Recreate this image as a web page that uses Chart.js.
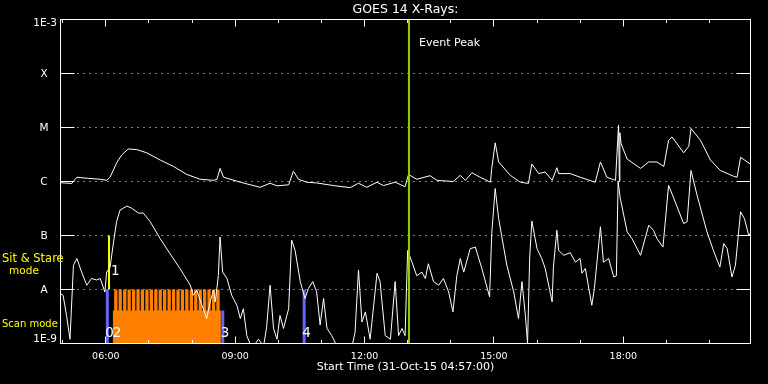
<!DOCTYPE html>
<html>
<head>
<meta charset="utf-8">
<script src="https://cdn.jsdelivr.net/npm/chart.js@4.4.1/dist/chart.umd.min.js"></script>
<style>
html, body { margin: 0; padding: 0; background: #000; }
#wrap { width: 768px; height: 384px; }
</style>
</head>
<body>
<div id="wrap"><canvas id="goesChart" width="768" height="384"></canvas></div>
<script>
// GOES 14 x-ray flux (W/m^2), times in hours UT on 31-Oct-2015
const longTimes = [
  4.95, 5.21, 5.33, 5.56, 5.87, 6.02, 6.10, 6.25, 6.37, 6.52,
  6.72, 6.95, 7.26, 7.57, 7.88, 8.19, 8.50, 8.58, 8.65, 8.73,
  9.12, 9.58, 9.81, 9.97, 10.24, 10.35, 10.47, 10.66, 10.89, 11.28,
  11.67, 11.86, 12.05, 12.29, 12.44, 12.71, 12.94, 13.02, 13.21, 13.52,
  13.68, 14.06, 14.22, 14.34, 14.49, 14.68, 14.92, 14.95, 15.03, 15.11,
  15.38, 15.61, 15.80, 15.88, 16.04, 16.19, 16.35, 16.46, 16.50, 16.77,
  17.00, 17.35, 17.47, 17.62, 17.82, 17.89, 17.91, 17.92, 17.95, 18.09,
  18.40, 18.59, 18.78, 18.94, 19.05, 19.13, 19.40, 19.52, 19.57, 19.79,
  20.02, 20.25, 20.56, 20.64, 20.72, 20.95
];
const longFlux = [
  0.95e-6, 0.92e-6, 1.2e-6, 1.15e-6, 1.1e-6, 1.05e-6, 1.2e-6, 2.2e-6, 3.1e-6, 4.0e-6,
  3.9e-6, 3.4e-6, 2.5e-6, 1.9e-6, 1.35e-6, 1.1e-6, 1.05e-6, 1.1e-6, 1.75e-6, 1.2e-6,
  0.97e-6, 0.78e-6, 0.93e-6, 0.83e-6, 0.87e-6, 1.55e-6, 1.1e-6, 0.97e-6, 0.94e-6, 0.84e-6,
  0.77e-6, 0.93e-6, 0.78e-6, 0.97e-6, 0.84e-6, 0.97e-6, 0.8e-6, 1.35e-6, 1.1e-6, 1.28e-6,
  1.05e-6, 1.0e-6, 1.3e-6, 1.05e-6, 1.45e-6, 1.2e-6, 0.97e-6, 1.75e-6, 5.2e-6, 2.3e-6,
  1.3e-6, 0.97e-6, 0.92e-6, 2.1e-6, 1.4e-6, 1.5e-6, 1.05e-6, 1.8e-6, 1.4e-6, 1.4e-6,
  1.2e-6, 0.97e-6, 2.3e-6, 1.2e-6, 1.05e-6, 1.1e-5, 1.0e-6, 8e-6, 5e-6, 2.6e-6,
  1.75e-6, 2.3e-6, 2.3e-6, 1.9e-6, 5.8e-6, 6.7e-6, 3.4e-6, 4.5e-6, 9.6e-6, 5.8e-6,
  2.5e-6, 1.6e-6, 1.25e-6, 1.2e-6, 2.8e-6, 2.1e-6
];
const shortTimes = [
  4.95, 5.01, 5.09, 5.17, 5.25, 5.33, 5.44, 5.56, 5.67, 5.79,
  5.87, 5.98, 6.02, 6.10, 6.18, 6.25, 6.33, 6.49, 6.60, 6.76,
  6.87, 7.03, 7.26, 7.49, 7.72, 7.96, 8.03, 8.11, 8.23, 8.34,
  8.42, 8.50, 8.54, 8.61, 8.65, 8.71, 8.81, 8.92, 9.04, 9.12,
  9.19, 9.27, 9.39, 9.54, 9.66, 9.73, 9.81, 9.89, 9.97, 10.04,
  10.12, 10.24, 10.31, 10.39, 10.51, 10.62, 10.70, 10.80, 10.89, 10.97,
  11.05, 11.13, 11.24, 11.36, 11.71, 11.78, 11.86, 11.94, 12.02, 12.13,
  12.29, 12.36, 12.48, 12.60, 12.71, 12.79, 12.87, 12.94, 13.00, 13.10,
  13.21, 13.33, 13.41, 13.48, 13.60, 13.72, 13.83, 13.95, 14.05, 14.14,
  14.22, 14.30, 14.45, 14.57, 14.72, 14.90, 14.95, 15.03, 15.11, 15.30,
  15.46, 15.57, 15.65, 15.73, 15.78, 15.83, 15.88, 16.00, 16.11, 16.19,
  16.35, 16.38, 16.46, 16.50, 16.62, 16.77, 16.89, 17.00, 17.04, 17.12,
  17.27, 17.33, 17.47, 17.54, 17.66, 17.78, 17.84, 17.88, 17.93, 18.09,
  18.20, 18.40, 18.59, 18.70, 18.78, 18.92, 19.05, 19.17, 19.40, 19.48,
  19.57, 19.71, 19.94, 20.10, 20.24, 20.33, 20.41, 20.52, 20.60, 20.72,
  20.81, 20.91, 20.95
];
const shortFlux = [
  8.4e-9, 7.8e-9, 3.3e-9, 1.2e-9, 2.8e-8, 3.75e-8, 2.1e-8, 1.2e-8, 1.6e-8, 1.5e-8,
  1.6e-8, 9e-9, 2.1e-8, 2.6e-8, 7.6e-8, 1.8e-7, 2.95e-7, 3.5e-7, 3.2e-7, 2.6e-7,
  2.6e-7, 1.8e-7, 8.8e-8, 4.6e-8, 2.45e-8, 1.2e-8, 7.8e-9, 9.7e-9, 5.1e-9, 2.9e-9,
  5.9e-9, 9.7e-9, 5.9e-9, 1.8e-8, 9.4e-8, 2.1e-8, 1.6e-8, 7.8e-9, 5.1e-9, 2.9e-9,
  4.4e-9, 1.4e-9, 0.8e-9, 1.2e-9, 0.9e-9, 2e-9, 1.2e-8, 1.9e-9, 1.2e-9, 3.3e-9,
  1.9e-9, 4.4e-9, 8.2e-8, 5.3e-8, 1.4e-8, 6.8e-9, 1.05e-8, 1.4e-8, 9e-9, 2.2e-9,
  6.8e-9, 1.9e-9, 1.4e-9, 0.9e-9, 0.9e-9, 1.6e-9, 2.3e-8, 2.5e-9, 3.85e-9, 1.2e-9,
  2e-8, 1.4e-8, 1.4e-9, 1.2e-9, 1.4e-8, 1.4e-9, 1.9e-9, 1.4e-9, 5.3e-8, 3.2e-8,
  1.8e-8, 2.1e-8, 1.6e-8, 3e-8, 1.4e-8, 1.2e-8, 1.6e-8, 9e-9, 3.85e-9, 1.8e-8,
  3.75e-8, 2.1e-8, 5.7e-8, 6.1e-8, 2.45e-8, 7.3e-9, 1.1e-7, 7.4e-7, 2.05e-7, 2.8e-8,
  9e-9, 2.9e-9, 1.4e-8, 3.3e-9, 1.0e-9, 4e-8, 1.85e-7, 5.7e-8, 3.75e-8, 2.45e-8,
  5.9e-9, 2.6e-8, 1.25e-7, 5.3e-8, 4.3e-8, 4.8e-8, 3.2e-8, 3.75e-8, 2e-8, 2.45e-8,
  5.1e-9, 1.05e-8, 1.45e-7, 3.2e-8, 3.75e-8, 1.7e-8, 1.8e-8, 1.0e-6, 4.9e-7, 1.17e-7,
  8.8e-8, 4.3e-8, 1.55e-7, 1.25e-7, 8.8e-8, 6.1e-8, 8.5e-7, 4.9e-7, 1.66e-7, 1.8e-7,
  1.6e-6, 5.6e-7, 1.17e-7, 5e-8, 2.6e-8, 7.1e-8, 5.7e-8, 1.7e-8, 2.8e-8, 2.75e-7,
  2.05e-7, 1e-7, 1.1e-7
];

// scan mode rasters
const scanTimes = [
  6.233, 6.335, 6.440, 6.542, 6.646, 6.748, 6.850, 6.955, 7.057, 7.161, 7.263, 7.365,
  7.470, 7.572, 7.676, 7.778, 7.880, 7.985, 8.087, 8.191, 8.293, 8.395, 8.500, 8.602
];
const scanStart = 6.16, scanEnd = 8.67;
const scanBase = 4.1e-9, scanTop = 1e-8;

const markerTimes = [6.036, 8.713, 10.60];
const markerTops = [1e-8, 4.1e-9, 1e-8];
const markerLabels = ['0', '3', '4'];

const sitTime = 6.075;
const sitRange = [1e-8, 1e-7];
const peakTime = 13.03;

const yTickValues = [1e-9, 1e-8, 1e-7, 1e-6, 1e-5, 1e-4, 1e-3];
const yTickLabels = ['1E-9', 'A', 'B', 'C', 'M', 'X', '1E-3'];
const xTickHours = [6, 9, 12, 15, 18];
const xTickLabels = ['06:00', '09:00', '12:00', '15:00', '18:00'];
const startHour = 4.95, endHour = 20.95;

const ORANGE = '#ff8000';
const BLUE = '#6464ff';
const FONT = 'DejaVu Sans';

const toPoints = (xs, ys) => xs.map((x, i) => ({ x: x, y: ys[i] }));

const spikePoints = scanTimes.flatMap(t => [
  { x: t, y: scanTop }, { x: t, y: 1e-9 }, { x: t, y: null }
]);
const markerPoints = markerTimes.flatMap((t, i) => [
  { x: t, y: 1e-9 }, { x: t, y: markerTops[i] }, { x: t, y: null }
]);

const goesFrame = {
  id: 'goesFrame',
  beforeDraw(chart) {
    const ctx = chart.ctx;
    ctx.save();
    ctx.fillStyle = '#000';
    ctx.fillRect(0, 0, chart.width, chart.height);
    ctx.restore();
  },
  beforeDatasetsDraw(chart) {
    const { ctx, chartArea: a, scales: { y } } = chart;
    ctx.save();
    ctx.strokeStyle = '#fff';
    ctx.lineWidth = 1;
    ctx.setLineDash([1, 5]);
    yTickValues.forEach(v => {
      if (v <= y.min || v >= y.max) return;
      const py = Math.floor(y.getPixelForValue(v)) + 0.5;
      ctx.beginPath();
      ctx.moveTo(a.left + 17, py);
      ctx.lineTo(a.right - 14, py);
      ctx.stroke();
    });
    ctx.restore();
  },
  afterDatasetsDraw(chart) {
    const { ctx, chartArea: a, scales: { x, y } } = chart;
    ctx.save();
    ctx.strokeStyle = '#fff';
    ctx.lineWidth = 1;
    ctx.strokeRect(a.left, a.top, a.right - a.left, a.bottom - a.top);

    // y ticks, both sides
    ctx.beginPath();
    yTickValues.forEach(v => {
      const py = Math.floor(y.getPixelForValue(v)) + 0.5;
      ctx.moveTo(a.left, py); ctx.lineTo(a.left + 14, py);
      ctx.moveTo(a.right - 14, py); ctx.lineTo(a.right, py);
    });
    // x ticks, hourly, longer every 3 hours
    for (let h = Math.ceil(startHour); h <= endHour; h++) {
      const px = Math.floor(x.getPixelForValue(h)) + 0.5;
      const len = h % 3 === 0 ? 7 : 3.5;
      ctx.moveTo(px, a.top); ctx.lineTo(px, a.top + len);
      ctx.moveTo(px, a.bottom); ctx.lineTo(px, a.bottom - len);
    }
    ctx.stroke();

    // y labels
    ctx.fillStyle = '#fff';
    ctx.font = '10.5px "' + FONT + '"';
    ctx.textBaseline = 'middle';
    yTickValues.forEach((v, i) => {
      const lab = yTickLabels[i];
      const py = Math.min(Math.max(y.getPixelForValue(v), a.top + 4), a.bottom - 4);
      if (lab.startsWith('1E')) {
        ctx.textAlign = 'right';
        ctx.fillText(lab, a.left - 3.5, py);
      } else {
        ctx.textAlign = 'center';
        ctx.fillText(lab, a.left - 16.5, py + 1);
      }
    });

    // title
    ctx.font = '12.5px "' + FONT + '"';
    ctx.textAlign = 'center';
    ctx.fillText('GOES 14 X-Rays:', (a.left + a.right) / 2, 10);

    // event peak
    ctx.font = '11px "' + FONT + '"';
    ctx.textAlign = 'left';
    ctx.fillText('Event Peak', x.getPixelForValue(peakTime) + 10, 43);

    // mode labels
    ctx.fillStyle = '#ffff00';
    ctx.font = '11.5px "' + FONT + '"';
    ctx.textAlign = 'left';
    ctx.fillText('Sit & Stare', 2, 259);
    ctx.font = '10.5px "' + FONT + '"';
    ctx.textAlign = 'center';
    ctx.fillText('mode', 24, 271);
    ctx.font = '10px "' + FONT + '"';
    ctx.textAlign = 'left';
    ctx.fillText('Scan mode', 2, 324);

    // marker numbers
    ctx.fillStyle = '#fff';
    ctx.font = '13.5px "' + FONT + '"';
    ctx.textAlign = 'left';
    const ny = a.bottom - 10;
    markerTimes.forEach((t, i) => {
      ctx.fillText(markerLabels[i], x.getPixelForValue(t) - 2, ny);
    });
    ctx.fillText('2', x.getPixelForValue(scanStart), ny);
    ctx.fillText('1', x.getPixelForValue(sitTime) + 2, y.getPixelForValue(sitRange[0]) - 18);
    ctx.restore();
  }
};

const ctx = document.getElementById('goesChart').getContext('2d');
new Chart(ctx, {
  type: 'line',
  data: {
    datasets: [
      {
        label: 'Event peak',
        data: [{ x: peakTime, y: 1e-9 }, { x: peakTime, y: 1e-3 }],
        borderColor: '#9acd00',
        borderWidth: 2
      },
      {
        label: '1-8 A',
        data: toPoints(longTimes, longFlux),
        borderColor: '#fff',
        borderWidth: 1
      },
      {
        label: '0.5-4 A',
        data: toPoints(shortTimes, shortFlux),
        borderColor: '#fff',
        borderWidth: 1
      },
      {
        label: 'Markers',
        data: markerPoints,
        borderColor: BLUE,
        borderWidth: 3
      },
      {
        label: 'Sit & Stare',
        data: [{ x: sitTime, y: sitRange[0] }, { x: sitTime, y: sitRange[1] }],
        borderColor: '#ffff00',
        borderWidth: 2
      },
      {
        label: 'Scan spikes',
        data: spikePoints,
        borderColor: ORANGE,
        borderWidth: 3.3
      },
      {
        label: 'Scan block',
        data: [{ x: scanStart, y: scanBase }, { x: scanEnd, y: scanBase }],
        borderWidth: 0,
        borderColor: ORANGE,
        backgroundColor: ORANGE,
        fill: 'start'
      }
    ]
  },
  options: {
    responsive: false,
    devicePixelRatio: 1,
    animation: false,
    events: [],
    layout: { padding: { top: 19.5, right: 17.5, bottom: 0, left: 0 } },
    elements: {
      point: { radius: 0 },
      line: { tension: 0 }
    },
    plugins: {
      legend: { display: false },
      tooltip: { enabled: false },
      title: { display: false }
    },
    scales: {
      x: {
        type: 'linear',
        min: startHour,
        max: endHour,
        offset: false,
        grid: { display: false, drawTicks: false },
        border: { display: false },
        afterBuildTicks: s => {
          const t = [];
          for (let h = Math.ceil(startHour); h <= endHour; h++) t.push({ value: h });
          s.ticks = t;
        },
        ticks: {
          autoSkip: false,
          maxRotation: 0,
          color: '#fff',
          padding: 7,
          font: { family: FONT, size: 9.5 },
          callback: v => {
            const i = xTickHours.indexOf(v);
            return i >= 0 ? xTickLabels[i] : '';
          }
        },
        title: {
          display: true,
          text: 'Start Time (31-Oct-15 04:57:00)',
          color: '#fff',
          font: { family: FONT, size: 11 },
          padding: { top: 0, bottom: 10 }
        },
        afterFit: s => { s.height = 40.5; }
      },
      y: {
        type: 'logarithmic',
        min: 1e-9,
        max: 1e-3,
        stacked: false,
        grid: { display: false, drawTicks: false },
        border: { display: false },
        ticks: { display: false },
        afterBuildTicks: s => { s.ticks = yTickValues.map(v => ({ value: v })); },
        afterFit: s => { s.width = 60.5; }
      }
    }
  },
  plugins: [goesFrame]
});
</script>
</body>
</html>
